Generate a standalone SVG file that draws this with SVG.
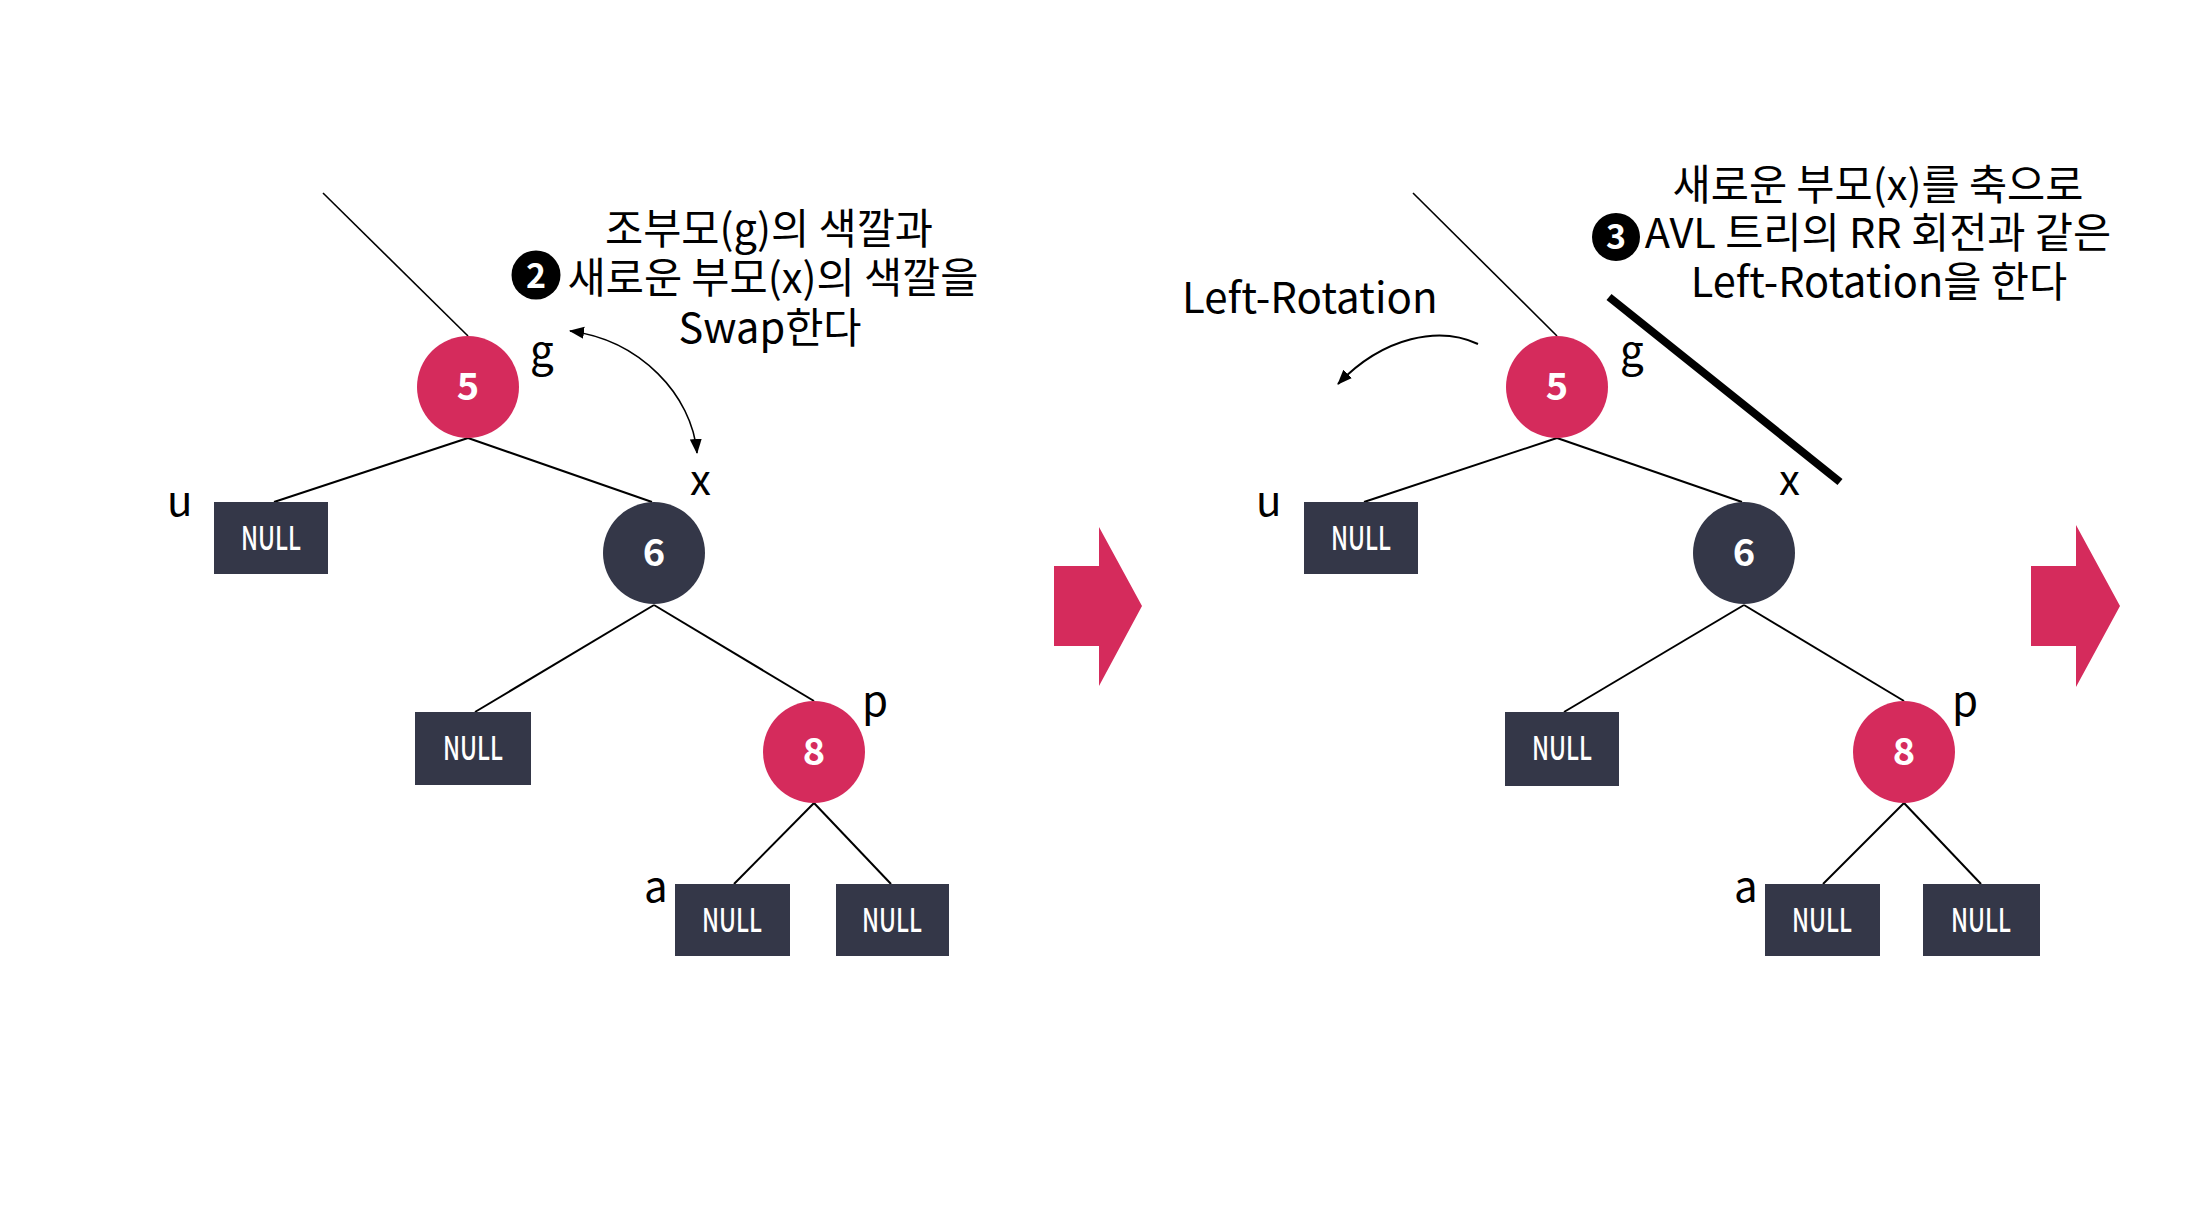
<svg xmlns="http://www.w3.org/2000/svg" width="2196" height="1230" viewBox="0 0 2196 1230">
<style>
  text { font-family: "Noto Sans CJK KR", "Noto Sans", sans-serif; }
  .red { fill: #D52B5C; }
  .navy { fill: #343748; }
  .edge { stroke: #000; stroke-width: 2; fill: none; }
  .thin { stroke: #000; stroke-width: 1.6; fill: none; }
  .num { fill: #fff; font-size: 38px; font-weight: 700; text-anchor: middle; }
  .null { fill: #fff; font-size: 33px; font-weight: 500; text-anchor: middle; }
  .lbl { fill: #000; font-size: 42px; }
  .ann { fill: #000; font-size: 41.5px; font-weight: 400; text-anchor: middle; }
  .badge { fill: #fff; font-size: 34px; font-weight: 700; text-anchor: middle; }
  .big { fill: #D52B5C; }
</style>
<defs>
  <marker id="ah" markerUnits="userSpaceOnUse" markerWidth="16" markerHeight="14" refX="14" refY="7" orient="auto-start-reverse">
    <path d="M0,1 L15,7 L0,13 z" fill="#000"/>
  </marker>
</defs>

<g id="connectors">
  <!-- left tree -->
  <line class="thin" x1="323" y1="193" x2="468" y2="336"/>
  <line class="edge" x1="468" y1="438" x2="274" y2="502"/>
  <line class="edge" x1="468" y1="438" x2="652" y2="502"/>
  <line class="edge" x1="654" y1="605" x2="475" y2="712"/>
  <line class="edge" x1="654" y1="605" x2="814" y2="701"/>
  <line class="edge" x1="814" y1="803" x2="734" y2="884"/>
  <line class="edge" x1="814" y1="803" x2="891" y2="884"/>
  <path class="thin" d="M570,331 C640,340 692,395 697,453" marker-start="url(#ah)" marker-end="url(#ah)"/>
  <!-- right tree -->
  <line class="thin" x1="1413" y1="193" x2="1557" y2="336"/>
  <line class="edge" x1="1557" y1="438" x2="1364" y2="502"/>
  <line class="edge" x1="1557" y1="438" x2="1742" y2="502"/>
  <line class="edge" x1="1744" y1="605" x2="1564" y2="712"/>
  <line class="edge" x1="1744" y1="605" x2="1904" y2="701"/>
  <line class="edge" x1="1904" y1="803" x2="1823" y2="884"/>
  <line class="edge" x1="1904" y1="803" x2="1981" y2="884"/>
  <path class="edge" d="M1478,344 C1440,326 1384,336 1338,384" marker-end="url(#ah)"/>
  <line x1="1609" y1="297" x2="1840" y2="482" stroke="#000" stroke-width="8"/>
</g>

<!-- left tree nodes -->
<g id="L-n5"><circle class="red" cx="468" cy="387" r="51"/><text class="num" x="468" y="400">5</text></g>
<g id="L-g"><text class="lbl" x="530" y="366">g</text></g>
<g id="L-x"><text class="lbl" x="690" y="495">x</text></g>
<g id="L-u"><text class="lbl" x="167" y="516">u</text></g>
<g id="L-nullu"><rect class="navy" x="214" y="502" width="114" height="72"/><text class="null" x="271" y="550" textLength="60" lengthAdjust="spacingAndGlyphs">NULL</text></g>
<g id="L-n6"><circle class="navy" cx="654" cy="553" r="51"/><text class="num" x="654" y="566">6</text></g>
<g id="L-nullm"><rect class="navy" x="415" y="712" width="116" height="73"/><text class="null" x="473" y="760" textLength="60" lengthAdjust="spacingAndGlyphs">NULL</text></g>
<g id="L-n8"><circle class="red" cx="814" cy="752" r="51"/><text class="num" x="814" y="765">8</text></g>
<g id="L-p"><text class="lbl" x="862" y="716">p</text></g>
<g id="L-a"><text class="lbl" x="644" y="902">a</text></g>
<g id="L-nulla"><rect class="navy" x="675" y="884" width="115" height="72"/><text class="null" x="732" y="932" textLength="60" lengthAdjust="spacingAndGlyphs">NULL</text></g>
<g id="L-nullb"><rect class="navy" x="836" y="884" width="113" height="72"/><text class="null" x="892" y="932" textLength="60" lengthAdjust="spacingAndGlyphs">NULL</text></g>

<g id="L-note">
  <text class="ann" x="769" y="244">조부모(g)의 색깔과</text>
  <circle cx="536" cy="275" r="24.5" fill="#000"/>
  <text class="badge" x="536" y="288">2</text>
  <text class="ann" x="773" y="293">새로운 부모(x)의 색깔을</text>
  <text class="ann" x="770" y="343">Swap한다</text>
</g>

<g id="arrow1"><polygon class="big" points="1054,566 1099,566 1099,527 1142,606 1099,686 1099,646 1054,646"/></g>

<!-- right tree nodes -->
<g id="R-n5"><circle class="red" cx="1557" cy="387" r="51"/><text class="num" x="1557" y="400">5</text></g>
<g id="R-g"><text class="lbl" x="1620" y="366">g</text></g>
<g id="R-x"><text class="lbl" x="1779" y="495">x</text></g>
<g id="R-u"><text class="lbl" x="1256" y="516">u</text></g>
<g id="R-nullu"><rect class="navy" x="1304" y="502" width="114" height="72"/><text class="null" x="1361" y="550" textLength="60" lengthAdjust="spacingAndGlyphs">NULL</text></g>
<g id="R-n6"><circle class="navy" cx="1744" cy="553" r="51"/><text class="num" x="1744" y="566">6</text></g>
<g id="R-nullm"><rect class="navy" x="1505" y="712" width="114" height="74"/><text class="null" x="1562" y="760" textLength="60" lengthAdjust="spacingAndGlyphs">NULL</text></g>
<g id="R-n8"><circle class="red" cx="1904" cy="752" r="51"/><text class="num" x="1904" y="765">8</text></g>
<g id="R-p"><text class="lbl" x="1952" y="716">p</text></g>
<g id="R-a"><text class="lbl" x="1734" y="902">a</text></g>
<g id="R-nulla"><rect class="navy" x="1765" y="884" width="115" height="72"/><text class="null" x="1822" y="932" textLength="60" lengthAdjust="spacingAndGlyphs">NULL</text></g>
<g id="R-nullb"><rect class="navy" x="1923" y="884" width="117" height="72"/><text class="null" x="1981" y="932" textLength="60" lengthAdjust="spacingAndGlyphs">NULL</text></g>

<g id="R-note">
  <text class="ann" x="1878" y="200">새로운 부모(x)를 축으로</text>
  <circle cx="1616" cy="237" r="24" fill="#000"/>
  <text class="badge" x="1616" y="249">3</text>
  <text class="ann" x="1878" y="248">AVL 트리의 RR 회전과 같은</text>
  <text class="ann" x="1879" y="297">Left-Rotation을 한다</text>
</g>
<g id="R-rot"><text class="lbl" x="1182" y="313" font-size="42">Left-Rotation</text></g>

<g id="arrow2"><polygon class="big" points="2031,566 2076,566 2076,525 2120,606 2076,687 2076,646 2031,646"/></g>
</svg>
